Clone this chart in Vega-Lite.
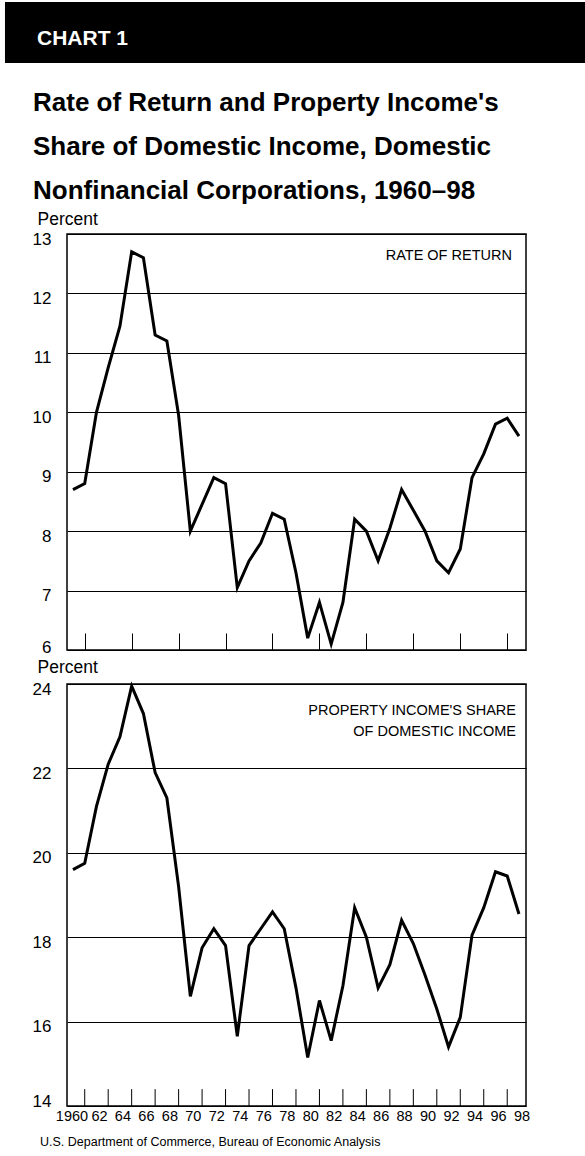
{
  "$schema": "https://vega.github.io/schema/vega-lite/v6.json",
  "padding": {"left": 4, "top": 2, "right": 0, "bottom": 0},
  "background": "white",
  "config": {
    "font": "Liberation Sans",
    "view": {"stroke": "black", "strokeWidth": 1.5},
    "axis": {
      "labelFont": "Liberation Sans",
      "titleFont": "Liberation Sans",
      "labelColor": "black",
      "titleColor": "black"
    }
  },
  "datasets": {
    "corp": [
      {"year": 1960, "rate": 8.7, "share": 19.6},
      {"year": 1961, "rate": 8.8, "share": 19.75},
      {"year": 1962, "rate": 10.0, "share": 21.1},
      {"year": 1963, "rate": 10.75, "share": 22.1},
      {"year": 1964, "rate": 11.45, "share": 22.75},
      {"year": 1965, "rate": 12.7, "share": 23.95},
      {"year": 1966, "rate": 12.6, "share": 23.3},
      {"year": 1967, "rate": 11.3, "share": 21.9},
      {"year": 1968, "rate": 11.2, "share": 21.3},
      {"year": 1969, "rate": 9.95, "share": 19.2},
      {"year": 1970, "rate": 8.0, "share": 16.6},
      {"year": 1971, "rate": 8.45, "share": 17.75},
      {"year": 1972, "rate": 8.9, "share": 18.2},
      {"year": 1973, "rate": 8.8, "share": 17.8},
      {"year": 1974, "rate": 7.05, "share": 15.65},
      {"year": 1975, "rate": 7.5, "share": 17.8},
      {"year": 1976, "rate": 7.8, "share": 18.2},
      {"year": 1977, "rate": 8.3, "share": 18.6},
      {"year": 1978, "rate": 8.2, "share": 18.2},
      {"year": 1979, "rate": 7.3, "share": 16.8},
      {"year": 1980, "rate": 6.2, "share": 15.15},
      {"year": 1981, "rate": 6.8, "share": 16.5},
      {"year": 1982, "rate": 6.1, "share": 15.55},
      {"year": 1983, "rate": 6.8, "share": 16.85},
      {"year": 1984, "rate": 8.2, "share": 18.7},
      {"year": 1985, "rate": 8.0, "share": 18.0},
      {"year": 1986, "rate": 7.5, "share": 16.8},
      {"year": 1987, "rate": 8.05, "share": 17.35},
      {"year": 1988, "rate": 8.7, "share": 18.4},
      {"year": 1989, "rate": 8.35, "share": 17.85},
      {"year": 1990, "rate": 8.0, "share": 17.1},
      {"year": 1991, "rate": 7.5, "share": 16.3},
      {"year": 1992, "rate": 7.3, "share": 15.4},
      {"year": 1993, "rate": 7.7, "share": 16.1},
      {"year": 1994, "rate": 8.9, "share": 18.05},
      {"year": 1995, "rate": 9.3, "share": 18.7},
      {"year": 1996, "rate": 9.8, "share": 19.55},
      {"year": 1997, "rate": 9.9, "share": 19.45},
      {"year": 1998, "rate": 9.6, "share": 18.55}
    ],
    "xlabels": [
      {"year": 1960, "label": "1960"},
      {"year": 1962, "label": "62"},
      {"year": 1964, "label": "64"},
      {"year": 1966, "label": "66"},
      {"year": 1968, "label": "68"},
      {"year": 1970, "label": "70"},
      {"year": 1972, "label": "72"},
      {"year": 1974, "label": "74"},
      {"year": 1976, "label": "76"},
      {"year": 1978, "label": "78"},
      {"year": 1980, "label": "80"},
      {"year": 1982, "label": "82"},
      {"year": 1984, "label": "84"},
      {"year": 1986, "label": "86"},
      {"year": 1988, "label": "88"},
      {"year": 1990, "label": "90"},
      {"year": 1992, "label": "92"},
      {"year": 1994, "label": "94"},
      {"year": 1996, "label": "96"},
      {"year": 1998, "label": "98"}
    ]
  },
  "title": {
    "text": "U.S. Department of Commerce, Bureau of Economic Analysis",
    "orient": "bottom",
    "anchor": "start",
    "frame": "bounds",
    "font": "Liberation Sans",
    "fontSize": 12.5,
    "fontWeight": "normal",
    "color": "black",
    "offset": 12,
    "dx": 35
  },
  "columns": 1,
  "spacing": 26,
  "concat": [
    {
      "width": 519,
      "height": 61,
      "view": {"stroke": null},
      "layer": [
        {
          "data": {"values": [{"label": "CHART 1"}]},
          "mark": {"type": "rect", "color": "black"},
          "encoding": {
            "x": {"datum": -0.1195, "type": "quantitative", "scale": {"domain": [0, 1], "nice": false, "zero": false}, "axis": null},
            "x2": {"datum": 1},
            "y": {"datum": 0, "type": "quantitative", "scale": {"domain": [0, 1], "nice": false}, "axis": null},
            "y2": {"datum": 1}
          }
        },
        {
          "data": {"values": [{"label": "CHART 1"}]},
          "mark": {"type": "text", "align": "left", "baseline": "middle", "color": "white", "font": "Liberation Sans", "fontWeight": "bold", "fontSize": 21},
          "encoding": {
            "text": {"field": "label", "type": "nominal"},
            "x": {"datum": -0.0578, "type": "quantitative"},
            "y": {"datum": 0.4, "type": "quantitative"}
          }
        }
      ]
    },
    {
      "spacing": 1,
      "vconcat": [
        {
          "width": 459,
          "height": 416,
          "title": {
            "text": ["Rate of Return and Property Income's", "Share of Domestic Income, Domestic", "Nonfinancial Corporations, 1960–98"],
            "anchor": "start",
            "frame": "group",
            "dx": -34,
            "font": "Liberation Sans",
            "fontSize": 26,
            "fontWeight": "bold",
            "lineHeight": 44,
            "baseline": "bottom",
            "offset": -20,
            "color": "black"
          },
          "layer": [
            {
              "data": {"name": "corp"},
              "mark": {"type": "line", "color": "black", "strokeWidth": 3},
              "encoding": {
                "x": {
                  "field": "year", "type": "quantitative",
                  "scale": {"domain": [1959.49, 1998.6], "nice": false, "zero": false},
                  "axis": {
                    "values": [1961, 1963, 1965, 1967, 1969, 1971, 1973, 1975, 1977, 1979, 1981, 1983, 1985, 1987, 1989, 1991, 1993, 1995, 1997],
                    "labels": false, "tickSize": -17, "tickColor": "black", "tickWidth": 1,
                    "domain": false, "grid": false, "title": null
                  }
                },
                "y": {
                  "field": "rate", "type": "quantitative",
                  "scale": {"domain": [6, 13], "nice": false, "zero": false},
                  "axis": {
                    "values": [6, 7, 8, 9, 10, 11, 12, 13],
                    "format": "d",
                    "title": "Percent",
                    "titleAngle": 0, "titleAlign": "left", "titleBaseline": "alphabetic",
                    "titleX": -30, "titleY": -10,
                    "titleFontSize": 17.5, "titleFontWeight": "normal",
                    "labelFontSize": 17, "labelPadding": 16,
                    "labelOffset": {"condition": {"test": "datum.value == 6", "value": -3}, "value": 5},
                    "ticks": false, "domain": false,
                    "grid": true, "gridColor": "black", "gridWidth": 1, "gridOpacity": 1,
                    "minExtent": 59
                  }
                }
              }
            },
            {
              "data": {"values": [{"label": "RATE OF RETURN"}]},
              "mark": {"type": "text", "align": "right", "baseline": "middle", "fontSize": 14.5, "color": "black"},
              "encoding": {
                "text": {"field": "label", "type": "nominal"},
                "x": {"datum": 1997.4, "type": "quantitative"},
                "y": {"datum": 12.63, "type": "quantitative"}
              }
            }
          ]
        },
        {
          "width": 459,
          "height": 422,
          "layer": [
            {
              "data": {"name": "corp"},
              "mark": {"type": "line", "color": "black", "strokeWidth": 3},
              "encoding": {
                "x": {
                  "field": "year", "type": "quantitative",
                  "scale": {"domain": [1959.49, 1998.6], "nice": false, "zero": false},
                  "axis": null
                },
                "y": {
                  "field": "share", "type": "quantitative",
                  "scale": {"domain": [14, 24], "nice": false, "zero": false},
                  "axis": {
                    "values": [14, 16, 18, 20, 22, 24],
                    "format": "d",
                    "title": "Percent",
                    "titleAngle": 0, "titleAlign": "left", "titleBaseline": "alphabetic",
                    "titleX": -30, "titleY": -12,
                    "titleFontSize": 17.5, "titleFontWeight": "normal",
                    "labelFontSize": 17, "labelPadding": 16,
                    "labelOffset": {"condition": {"test": "datum.value == 14", "value": -5}, "value": 5},
                    "ticks": false, "domain": false,
                    "grid": true, "gridColor": "black", "gridWidth": 1, "gridOpacity": 1,
                    "minExtent": 59
                  }
                }
              }
            },
            {
              "data": {"name": "corp"},
              "transform": [{"filter": "datum.year % 2 == 1"}],
              "mark": {"type": "rule", "color": "black", "strokeWidth": 1},
              "encoding": {
                "x": {"field": "year", "type": "quantitative", "axis": null},
                "y": {"datum": 14, "type": "quantitative"},
                "y2": {"datum": 14.4}
              }
            },
            {
              "data": {"name": "xlabels"},
              "transform": [{"filter": "datum.year != 1960"}],
              "mark": {"type": "text", "align": "center", "baseline": "middle", "fontSize": 14.5, "color": "black", "dx": 3},
              "encoding": {
                "text": {"field": "label", "type": "nominal"},
                "x": {"field": "year", "type": "quantitative", "axis": null},
                "y": {"datum": 13.74, "type": "quantitative"}
              }
            },
            {
              "data": {"name": "xlabels"},
              "transform": [{"filter": "datum.year == 1960"}],
              "mark": {"type": "text", "align": "center", "baseline": "middle", "fontSize": 14.5, "color": "black", "dx": -1},
              "encoding": {
                "text": {"field": "label", "type": "nominal"},
                "x": {"field": "year", "type": "quantitative", "axis": null},
                "y": {"datum": 13.74, "type": "quantitative"}
              }
            },
            {
              "data": {"values": [{"label": "PROPERTY INCOME'S SHARE\nOF DOMESTIC INCOME"}]},
              "mark": {"type": "text", "align": "right", "baseline": "middle", "fontSize": 14.5, "lineHeight": 21, "lineBreak": "\n", "color": "black"},
              "encoding": {
                "text": {"field": "label", "type": "nominal"},
                "x": {"datum": 1997.75, "type": "quantitative"},
                "y": {"datum": 23.37, "type": "quantitative"}
              }
            }
          ]
        }
      ]
    }
  ]
}
